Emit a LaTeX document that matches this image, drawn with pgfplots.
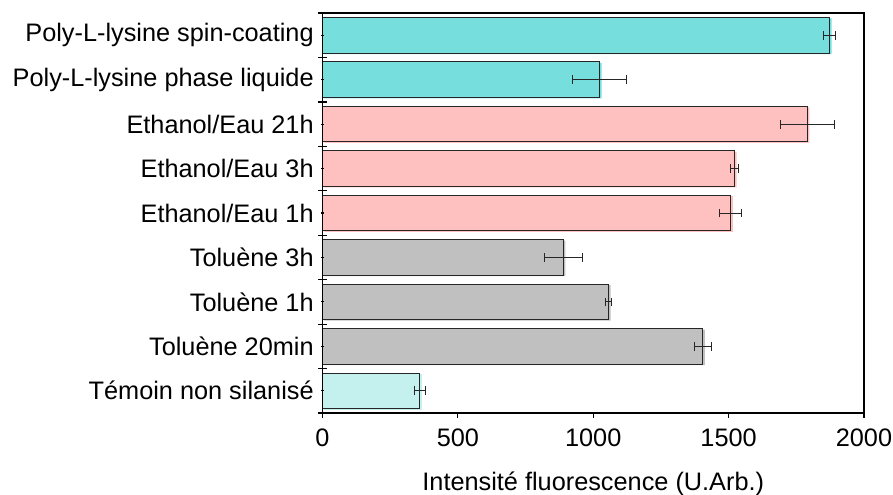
\documentclass[border=0pt]{standalone}
\usepackage{fontspec}
\setmainfont{Liberation Sans}
\usepackage{pgfplots}
\usepackage{pgfplotstable}
\pgfplotsset{compat=1.18}

\definecolor{cyanbar}{RGB}{118,223,221}
\definecolor{pinkbar}{RGB}{255,192,192}
\definecolor{graybar}{RGB}{192,192,192}
\definecolor{lightcyan}{RGB}{196,240,238}

% y = category position (0 = bottom), x = intensity, e = error
\pgfplotstableread{
y x e
8 1873 21
7 1024 100
}\polyl
\pgfplotstableread{
y x e
6 1791 100
5 1522 15
4 1508 40
}\ethanol
\pgfplotstableread{
y x e
3 890 70
2 1057 11
1 1405 31
}\toluene
\pgfplotstableread{
y x e
0 360 20
}\temoin

\begin{document}
\fontsize{12.65pt}{15pt}\selectfont
\begin{tikzpicture}
\useasboundingbox (-161.25pt,-40.5pt) rectangle (285.25pt,206.5pt);
\begin{axis}[
  at={(0,0)}, anchor=south west,
  scale only axis,
  width=270.75pt, height=200pt,
  xmin=0, xmax=2000,
  ymin=-0.5, ymax=8.5,
  xtick={0,500,1000,1500,2000},
  xtick pos=bottom,
  ytick={0,1,2,3,4,5,6,7,8},
  yticklabels={Témoin non silanisé, Toluène 20min, Toluène 1h, Toluène 3h,
    Ethanol/Eau 1h, Ethanol/Eau 3h, Ethanol/Eau 21h,
    Poly-L-lysine phase liquide, Poly-L-lysine spin-coating},
  ytick pos=left,
  ytick style={draw=none},
  tick align=outside,
  major tick length=2.5pt,
  tick style={black, line width=0.6pt},
  axis line style={line width=0.75pt},
  /pgf/number format/assume math mode=true,
  /pgf/number format/1000 sep={},
  ticklabel style={font=\fontsize{12.65pt}{15pt}\selectfont},
  label style={font=\fontsize{12.65pt}{15pt}\selectfont},
  xticklabel style={yshift=-1pt},
  yticklabel style={xshift=2.5pt},
  xlabel={Intensité fluorescence (U.Arb.)},
  xlabel style={yshift=-4pt},
  xbar, bar width=0.8, bar shift=0pt,
  clip=false,
]
% shadow-offset fills
\addplot[fill=cyanbar, draw=none, xshift=1pt, yshift=-0.5pt] table[x=x,y=y] {\polyl};
\addplot[fill=pinkbar, draw=none, xshift=1pt, yshift=-0.5pt] table[x=x,y=y] {\ethanol};
\addplot[fill=graybar, draw=none, xshift=1pt, yshift=-0.5pt] table[x=x,y=y] {\toluene};
\addplot[fill=lightcyan, draw=none, xshift=1pt, yshift=-0.5pt] table[x=x,y=y] {\temoin};
% outlined bars with error bars
\addplot[fill=cyanbar, draw=black!85, line width=0.5pt,
  error bars/.cd, x dir=both, x explicit, error mark=|,
  error bar style={black!85, line width=0.5pt},
  error mark options={black!85, mark size=2.2pt, line width=0.5pt}]
  table[x=x,y=y,x error=e] {\polyl};
\addplot[fill=pinkbar, draw=black!85, line width=0.5pt,
  error bars/.cd, x dir=both, x explicit, error mark=|,
  error bar style={black!85, line width=0.5pt},
  error mark options={black!85, mark size=2.2pt, line width=0.5pt}]
  table[x=x,y=y,x error=e] {\ethanol};
\addplot[fill=graybar, draw=black!85, line width=0.5pt,
  error bars/.cd, x dir=both, x explicit, error mark=|,
  error bar style={black!85, line width=0.5pt},
  error mark options={black!85, mark size=2.2pt, line width=0.5pt}]
  table[x=x,y=y,x error=e] {\toluene};
\addplot[fill=lightcyan, draw=black!85, line width=0.5pt,
  error bars/.cd, x dir=both, x explicit, error mark=|,
  error bar style={black!85, line width=0.5pt},
  error mark options={black!85, mark size=2.2pt, line width=0.5pt}]
  table[x=x,y=y,x error=e] {\temoin};
\end{axis}
% overlay axis for category boundary ticks on the left axis
\begin{axis}[
  at={(0,0)}, anchor=south west,
  scale only axis,
  width=270.75pt, height=200pt,
  xmin=0, xmax=2000,
  ymin=-0.5, ymax=8.5,
  axis x line=none,
  axis y line*=left,
  axis line style={line width=0.75pt},
  ytick={-0.5,0.5,1.5,2.5,3.5,4.5,5.5,6.5,7.5,8.5},
  yticklabels={},
  minor ytick={0,1,2,3,4,5,6,7,8},
  tick align=center,
  major tick length=4pt,
  minor tick length=1.5pt,
  tick style={black, line width=0.6pt},
]
\end{axis}
\end{tikzpicture}
\end{document}
